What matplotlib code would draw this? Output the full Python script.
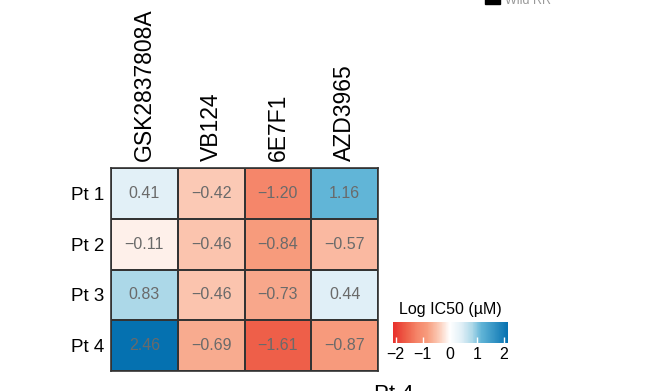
import numpy as np
import matplotlib
matplotlib.use("Agg")
import matplotlib.pyplot as plt
from matplotlib.colors import LinearSegmentedColormap, Normalize
from matplotlib.patches import Rectangle

drugs = ["GSK2837808A", "VB124", "6E7F1", "AZD3965"]
patients = ["Pt 1", "Pt 2", "Pt 3", "Pt 4"]
log_ic50 = np.array([
    [0.41, -0.42, -1.20, 1.16],
    [-0.11, -0.46, -0.84, -0.57],
    [0.83, -0.46, -0.73, 0.44],
    [2.46, -0.69, -1.61, -0.87],
])
cbar_ticks = [-2, -1, 0, 1, 2]

plt.rcParams["font.family"] = ["Liberation Sans", "DejaVu Sans"]

# colour ramp, red -> white -> blue
vmin, vmax = -2.1, 2.15
nodes = [(-2.1, "#e8302c"), (-1.61, "#ee6049"), (-1.2, "#f5866a"),
         (-0.84, "#f79c7d"), (-0.42, "#fbc9b4"), (0.0, "#ffffff"),
         (0.42, "#e2f0f7"), (0.83, "#add8e8"), (1.16, "#62b5d7"),
         (2.15, "#0571b0")]
cmap = LinearSegmentedColormap.from_list(
    "ic50", [((v - vmin) / (vmax - vmin), c) for v, c in nodes])
norm = Normalize(vmin=vmin, vmax=vmax)

fig = plt.figure(figsize=(6.57, 3.91), dpi=100)
ax = fig.add_axes([111 / 657, 1 - 371 / 391, 267 / 657, 203 / 391])

ax.pcolormesh(log_ic50, cmap=cmap, norm=norm, edgecolors="#333333", linewidth=1.2)
ax.set_xlim(0, 4)
ax.set_ylim(4, 0)
for i in range(4):
    for j in range(4):
        ax.text(j + 0.5, i + 0.5, f"{log_ic50[i, j]:.2f}".replace("-", "\u2212"),
                ha="center", va="center", fontsize=11.5, color="#6a6a6a")

ax.set_xticks(np.arange(4) + 0.5)
ax.set_xticklabels(drugs, rotation=90, fontsize=16.5)
ax.xaxis.tick_top()
ax.set_yticks(np.arange(4) + 0.5)
ax.set_yticklabels(patients, fontsize=13.5)
ax.tick_params(length=0, pad=5)
for s in ax.spines.values():
    s.set_color("#333333")
    s.set_linewidth(1.2)

# legend
cax = fig.add_axes([393 / 657, 1 - 343 / 391, 115 / 657, 21 / 391])
cb = fig.colorbar(plt.cm.ScalarMappable(norm=norm, cmap=cmap), cax=cax,
                  orientation="horizontal", ticks=cbar_ticks)
cb.outline.set_visible(False)
cb.ax.set_xticklabels([f"{t}".replace("-", "\u2212") for t in cbar_ticks], fontsize=11.5)
cb.ax.tick_params(direction="in", color="white", length=4, width=1, pad=3)
cb.ax.set_title("Log IC50 (\u00b5M)", fontsize=11.5, pad=6)

# cropped pieces of neighbouring panels
fig.patches.append(Rectangle((485 / 657, 1 - 4 / 391), 15 / 657, 6 / 391,
                             transform=fig.transFigure, color="black"))
fig.text(505 / 657, 1 - 1 / 391, "Wild RR", fontsize=9, color="#999999", va="center")
fig.text(374 / 657, 1 - 384 / 391, "Pt 4", fontsize=16, va="top")

fig.savefig("out.png", dpi=100)
